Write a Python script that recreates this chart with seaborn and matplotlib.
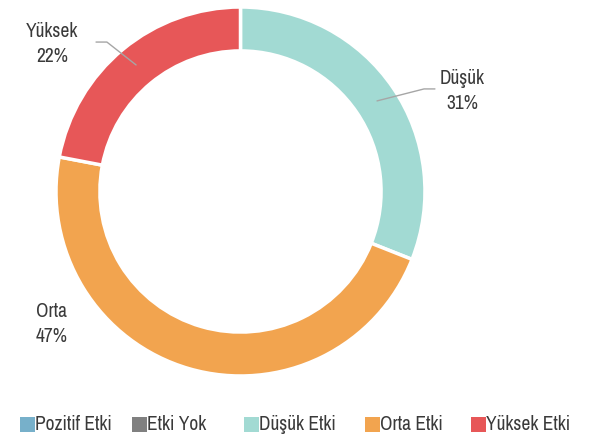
import matplotlib
matplotlib.use("Agg")
import matplotlib.pyplot as plt
import matplotlib.patches as mpatches
from matplotlib import font_manager
import seaborn as sns

# data
dilimler = ["Düşük", "Orta", "Yüksek"]
yuzdeler = [31, 47, 22]
dilim_renk = ["#A2DAD3", "#F2A44F", "#E75758"]

legend_etiket = ["Pozitif Etki", "Etki Yok", "Düşük Etki", "Orta Etki", "Yüksek Etki"]
legend_renk = ["#77B0CA", "#808080", "#A2DAD3", "#F2A44F", "#E75758"]

sns.set_style("white")

# dar bir font varsa onu kullan
adlar = sorted({f.name for f in font_manager.fontManager.ttflist})
dar = [n for n in adlar if "Narrow" in n or "Condensed" in n]
aile = dar[0] if dar else "Roboto"
plt.rcParams["font.family"] = [aile, "DejaVu Sans"]
boyut = 14 if dar else 12
yazi_renk = "#3A3A3A"

fig = plt.figure(figsize=(5.89, 4.4), dpi=100)
ax = fig.add_axes([0, 0, 1, 1])

ax.pie(yuzdeler, colors=dilim_renk, startangle=90, counterclock=False,
       radius=1, wedgeprops={"width": 0.238, "edgecolor": "white", "linewidth": 2.5})
ax.set_aspect("auto")
ax.set_xlim(-1.3035, 1.889)
ax.set_ylim(-1.347, 1.038)
ax.axis("off")

# etiketler
etiket_yer = [(1.20, 0.545), (-1.022, -0.718), (-1.022, 0.799)]
for ad, y, (lx, ly) in zip(dilimler, yuzdeler, etiket_yer):
    ax.text(lx, ly, f"{ad}\n{y}%", ha="center", va="center", fontsize=boyut,
            color=yazi_renk, linespacing=1.38)

# kılavuz çizgiler
ax.plot([0.740, 0.995, 1.054], [0.491, 0.556, 0.556], color="#A6A6A6", lw=1)
ax.plot([-0.783, -0.724, -0.566], [0.810, 0.810, 0.686], color="#A6A6A6", lw=1)

# lejant (elle yerleştirildi)
W, H = 589, 440
kutu_x = [20, 132, 244, 365, 471]
for x, et, c in zip(kutu_x, legend_etiket, legend_renk):
    fig.patches.append(mpatches.Rectangle((x / W, (440 - 432) / H), 15 / W, 15 / H,
                                          facecolor=c, edgecolor="none",
                                          transform=fig.transFigure, figure=fig))
    fig.text((x + 15) / W, (440 - 424) / H, et, ha="left", va="center",
             fontsize=boyut, color=yazi_renk)

plt.savefig("out.png", dpi=100)
